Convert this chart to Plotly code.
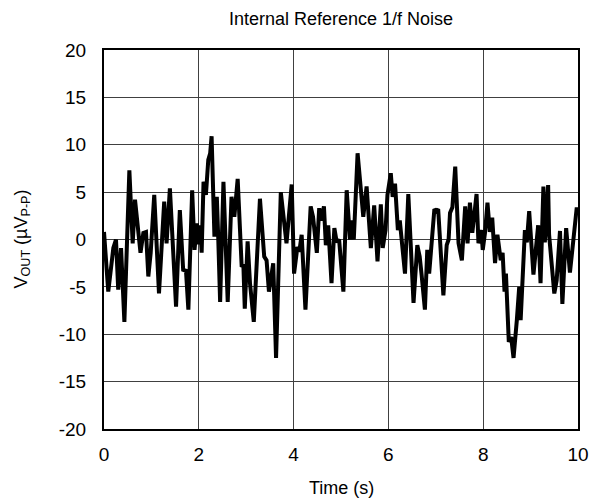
import plotly.graph_objects as go

# Output voltage noise trace over a 10 s capture (µV, peak-to-peak scale)
time_s = [
    0.00, 0.09, 0.197, 0.253, 0.30, 0.36, 0.43, 0.535, 0.605, 0.654,
    0.77, 0.83, 0.886, 0.935, 0.985, 1.06, 1.16, 1.27, 1.32, 1.39,
    1.52, 1.60, 1.67, 1.73, 1.78, 1.86, 1.91, 1.96, 2.00, 2.03,
    2.06, 2.10, 2.15, 2.20, 2.24, 2.27, 2.33, 2.38, 2.41, 2.45,
    2.52, 2.61, 2.69, 2.75, 2.82, 2.905, 2.94, 2.97, 3.03, 3.08,
    3.16, 3.29, 3.38, 3.43, 3.48, 3.57, 3.63, 3.73, 3.85, 3.96,
    4.01, 4.08, 4.12, 4.17, 4.25, 4.36, 4.41, 4.49, 4.54, 4.58,
    4.64, 4.68, 4.73, 4.80, 4.86, 4.91, 4.96, 5.05, 5.12, 5.19,
    5.23, 5.27, 5.35, 5.42, 5.47, 5.54, 5.63, 5.70, 5.77, 5.84,
    5.88, 5.94, 5.98, 6.05, 6.09, 6.14, 6.20, 6.24, 6.27, 6.35,
    6.42, 6.53, 6.61, 6.66, 6.70, 6.77, 6.82, 6.86, 6.97, 7.01,
    7.05, 7.16, 7.23, 7.27, 7.30, 7.35, 7.41, 7.48, 7.55, 7.62,
    7.67, 7.72, 7.77, 7.81, 7.86, 7.90, 7.96, 7.99, 8.04, 8.09,
    8.14, 8.19, 8.25, 8.30, 8.37, 8.41, 8.45, 8.48, 8.54, 8.59,
    8.64, 8.71, 8.76, 8.79, 8.88, 8.92, 8.97, 9.06, 9.16, 9.21,
    9.27, 9.30, 9.37, 9.39, 9.50, 9.55, 9.62, 9.67, 9.75, 9.83,
    9.97, 10.00,
]
vout_uv = [
    0.8, -5.5, -0.9, 0.0, -5.3, -0.9, -8.7, 7.3, -0.4, 4.2,
    -1.4, 0.7, 0.8, -3.9, -1.4, 4.7, -5.7, 4.0, -0.4, 5.4,
    -7.1, 3.1, -3.2, -3.3, -7.4, 5.2, -1.1, 1.7, -0.5, 1.5,
    -1.4, 6.1, 4.7, 8.4, 9.1, 10.9, 0.3, 4.5, 0.2, -6.6,
    6.1, -6.6, 4.5, 2.4, 6.4, -2.9, -2.6, -7.3, -0.2, -4.6,
    -8.7, 4.3, -1.8, -2.2, -5.5, -2.5, -12.5, 5.0, -0.4, 5.8,
    -3.6, -0.8, -1.3, 0.5, -7.4, 3.5, 2.4, -1.4, 3.3, 2.0,
    3.5, -0.6, 1.5, -4.6, 1.2, -0.3, 0.0, -5.5, 5.2, 0.0,
    2.0, 0.0, 9.1, 4.5, 2.4, 5.6, -0.9, 3.6, -2.3, 3.7,
    -0.9, 1.0, 4.7, 7.0, 4.5, 5.9, 1.0, 2.0, 0.7, -3.6,
    4.8, -6.7, -0.6, -1.8, -3.7, -7.4, -1.1, -3.6, 3.2, 3.0,
    3.2, -5.9, -0.6, 0.0, 2.8, 3.4, 7.7, -0.4, -2.2, 3.5,
    -0.4, 3.9, 0.7, 2.3, 4.8, -0.4, 1.0, -1.1, 0.8, 3.9,
    0.8, 2.3, -2.5, 0.5, -2.2, -1.4, -5.5, -3.6, -10.8, -10.3,
    -12.5, -8.5, -5.0, -8.5, 1.0, -0.3, 3.0, -3.7, 1.5, -4.6,
    5.6, -0.3, 5.75, 0.5, -5.7, -4.3, 0.9, -6.8, 1.2, -3.5,
    3.2, 3.2,
]

x_ticks = [0, 2, 4, 6, 8, 10]
y_ticks = [-20, -15, -10, -5, 0, 5, 10, 15, 20]
# plain hyphen-minus labels
x_tick_text = [str(v) for v in x_ticks]
y_tick_text = [str(v) for v in y_ticks]

FONT = "Liberation Sans, Arial, sans-serif"

# plot-area geometry in pixels
MARGIN_L, MARGIN_R, MARGIN_T, MARGIN_B = 104, 22, 50, 73
FIG_W, FIG_H = 600, 502
plot_w = FIG_W - MARGIN_L - MARGIN_R
plot_h = FIG_H - MARGIN_T - MARGIN_B

fig = go.Figure()
fig.add_trace(go.Scatter(
    x=time_s, y=vout_uv, mode="lines",
    line=dict(color="black", width=4),
    showlegend=False, hoverinfo="skip",
))

axis_common = dict(
    showline=True, linecolor="black", linewidth=2, mirror=True,
    showgrid=True, gridcolor="#404040", gridwidth=1,
    zeroline=False, ticks="",
    tickfont=dict(family=FONT, size=19, color="black"),
)

fig.update_layout(
    width=FIG_W, height=FIG_H,
    margin=dict(l=MARGIN_L, r=MARGIN_R, t=MARGIN_T, b=MARGIN_B),
    paper_bgcolor="white", plot_bgcolor="white",
    font=dict(family=FONT, color="black"),
    title=dict(
        text="Internal Reference 1/f Noise",
        font=dict(family=FONT, size=18, color="black"),
        x=0.5, xref="paper", xanchor="center",
        y=1 - 19 / FIG_H, yref="container", yanchor="middle",
    ),
    xaxis=dict(range=[0, 10], tickvals=x_ticks, ticktext=x_tick_text,
               ticklabelstandoff=7, **axis_common),
    yaxis=dict(range=[-20, 20], tickvals=y_ticks, ticktext=y_tick_text,
               ticklabelstandoff=12, **axis_common),
    annotations=[
        dict(text="Time (s)", x=0.5, xref="paper", y=-59 / plot_h, yref="paper",
             showarrow=False, font=dict(family=FONT, size=18, color="black"),
             yanchor="middle", xanchor="center"),
        dict(text="V<sub>OUT</sub> (µV<sub>P-P</sub>)", textangle=-90,
             x=-(MARGIN_L - 22) / plot_w, xref="paper", y=0.5, yref="paper",
             showarrow=False, font=dict(family=FONT, size=18, color="black"),
             xanchor="center", yanchor="middle"),
    ],
)

fig.write_html("out.html")
